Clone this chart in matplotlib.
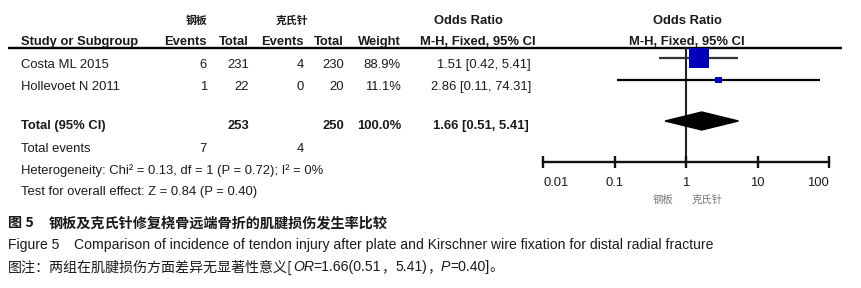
import matplotlib
matplotlib.use("Agg")
import matplotlib.pyplot as plt

# ---------------- data ----------------
studies = ["Costa ML 2015", "Hollevoet N 2011"]
events_plate = [6, 1]
total_plate = [231, 22]
events_kw = [4, 0]
total_kw = [230, 20]
weights = [88.9, 11.1]
or_est = [1.51, 2.86]
ci_low = [0.42, 0.11]
ci_high = [5.41, 74.31]
pooled = (1.66, 0.51, 5.41)
pooled_totals = (253, 250)
pooled_events = (7, 4)
heterogeneity = "Heterogeneity: Chi² = 0.13, df = 1 (P = 0.72); I² = 0%"
overall = "Test for overall effect: Z = 0.84 (P = 0.40)"
xticks = [0.01, 0.1, 1, 10, 100]
xtick_labels = ["0.01", "0.1", "1", "10", "100"]
group_labels = ["钢板", "克氏针"]

# ---------------- layout ----------------
W, H = 861, 288
fig = plt.figure(figsize=(W / 100, H / 100), dpi=100)
fig.patch.set_facecolor("white")
ax0 = fig.add_axes([0, 0, 1, 1])
ax0.set_xlim(0, W)
ax0.set_ylim(H, 0)
ax0.axis("off")

LAT = "Liberation Sans"
CJK = "Noto Sans CJK SC"
FS = 9.4
TXT = "#1a1a1a"

def t(x, y, s, ha="left", bold=False, fs=FS, color=TXT, family=None, **kw):
    return ax0.text(x, y, s, ha=ha, va="center", fontsize=fs, color=color,
                    fontweight="bold" if bold else "normal",
                    family=family or [LAT, CJK], **kw)

# header
t(197, 21, group_labels[0], ha="center", bold=True, fs=7.8, family=[CJK])
t(292, 21, group_labels[1], ha="center", bold=True, fs=7.8, family=[CJK])
t(468, 21, "Odds Ratio", ha="center", bold=True)
t(687, 21, "Odds Ratio", ha="center", bold=True)
hy = 42
t(21, hy, "Study or Subgroup", bold=True)
t(207, hy, "Events", ha="right", bold=True)
t(249, hy, "Total", ha="right", bold=True)
t(304, hy, "Events", ha="right", bold=True)
t(344, hy, "Total", ha="right", bold=True)
t(401, hy, "Weight", ha="right", bold=True)
t(478, hy, "M-H, Fixed, 95% CI", ha="center", bold=True)
t(687, hy, "M-H, Fixed, 95% CI", ha="center", bold=True)
ax0.plot([8, 842], [47.5, 47.5], color="black", lw=1.7, solid_capstyle="butt")

# study rows
row_text_y = [65, 87]
for i, name in enumerate(studies):
    y = row_text_y[i]
    t(21, y, name)
    t(207, y, f"{events_plate[i]}", ha="right")
    t(249, y, f"{total_plate[i]}", ha="right")
    t(304, y, f"{events_kw[i]}", ha="right")
    t(344, y, f"{total_kw[i]}", ha="right")
    t(401, y, f"{weights[i]:.1f}%", ha="right")
    t(531, y, f"{or_est[i]:.2f} [{ci_low[i]:.2f}, {ci_high[i]:.2f}]", ha="right")

ty = 126
t(21, ty, "Total (95% CI)", bold=True)
t(249, ty, f"{pooled_totals[0]}", ha="right", bold=True)
t(344, ty, f"{pooled_totals[1]}", ha="right", bold=True)
t(401, ty, f"{sum(weights):.1f}%", ha="right", bold=True)
t(529, ty, f"{pooled[0]:.2f} [{pooled[1]:.2f}, {pooled[2]:.2f}]", ha="right", bold=True)
t(21, 149, "Total events")
t(207, 149, f"{pooled_events[0]}", ha="right")
t(304, 149, f"{pooled_events[1]}", ha="right")
t(21, 171, heterogeneity)
t(21, 192, overall)

# ---------------- forest axes ----------------
x0, x1 = 543, 829
ytop, ybot = 47, 162
axf = fig.add_axes([x0 / W, 1 - ybot / H, (x1 - x0) / W, (ybot - ytop) / H])
axf.patch.set_alpha(0)
axf.set_xscale("log")
axf.set_xlim(xticks[0], xticks[-1])
axf.set_ylim(ybot, ytop)
for sp in ("left", "right", "top"):
    axf.spines[sp].set_visible(False)
axf.spines["bottom"].set_linewidth(1.7)
axf.spines["bottom"].set_color("#111111")
axf.set_yticks([])
axf.xaxis.set_minor_locator(matplotlib.ticker.NullLocator())
axf.set_xticks(xticks)
axf.set_xticklabels(xtick_labels, fontsize=FS, family=LAT, color=TXT)
axf.tick_params(axis="x", direction="inout", length=8.6, width=1.7,
                color="#111111", pad=6.5)
labs = axf.get_xticklabels()
labs[0].set_ha("left")
labs[-1].set_ha("right")

axf.axvline(1, color="#222222", lw=1.5, zorder=1)

row_plot_y = [58, 80]
marker_sizes = [215, 22]
ci_colors = ["#333333", "#000000"]
for i in range(len(studies)):
    y = row_plot_y[i]
    axf.plot([ci_low[i], ci_high[i]], [y, y], color=ci_colors[i], lw=1.6,
             solid_capstyle="butt", zorder=2, clip_on=False)
    axf.scatter([or_est[i]], [y], marker="s", s=marker_sizes[i],
                color="#0000BB", edgecolors="none", zorder=3, clip_on=False)

dy = 121
axf.fill([pooled[1], pooled[0], pooled[2], pooled[0]],
         [dy, dy - 9, dy, dy + 9], color="black", zorder=3, clip_on=False)

# group labels under axis
t(663, 200, group_labels[0], ha="center", fs=7.5, color="#777777", family=[CJK])
t(707, 200, group_labels[1], ha="center", fs=7.5, color="#777777", family=[CJK])

# ---------------- caption ----------------
t(8, 223, "图 5", bold=True, fs=10.2, family=[CJK])
t(49, 223, "钢板及克氏针修复桡骨远端骨折的肌腱损伤发生率比较", bold=True, fs=10.2, family=[CJK])
t(8, 245, "Figure 5", fs=10.1, family=[LAT])
t(74, 245, "Comparison of incidence of tendon injury after plate and Kirschner wire fixation for distal radial fracture",
  fs=10.1, family=[LAT])

fig.canvas.draw()
renderer = fig.canvas.get_renderer()
segments = [
    ("图注：两组在肌腱损伤方面差异无显著性意义[", "normal", [CJK]),
    ("OR", "italic", [LAT]),
    ("=1.66(0.51", "normal", [LAT]),
    ("，", "normal", [CJK]),
    ("5.41)", "normal", [LAT]),
    ("，", "normal", [CJK]),
    ("P", "italic", [LAT]),
    ("=0.40]", "normal", [LAT]),
    ("。", "normal", [CJK]),
]
xc = 8
for s, style, fam in segments:
    tx = ax0.text(xc, 267, s, ha="left", va="center", fontsize=10.1, color=TXT,
                  style=style, family=fam)
    bb = tx.get_window_extent(renderer)
    xc += bb.width

fig.savefig("out.png", dpi=100, facecolor="white")
